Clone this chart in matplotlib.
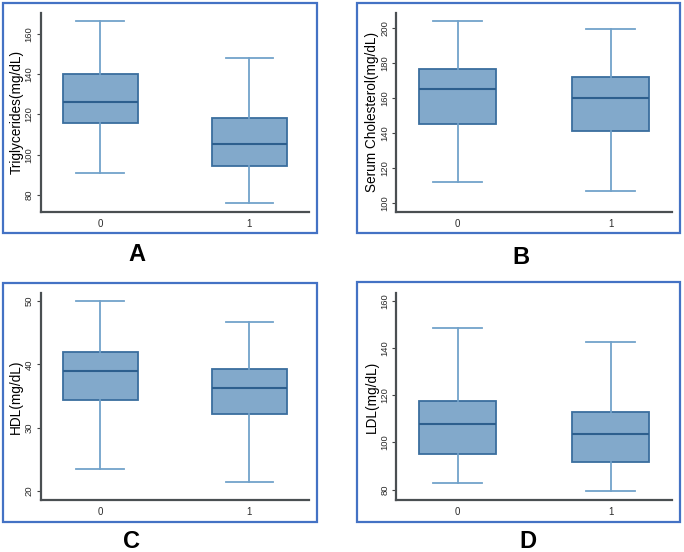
import matplotlib
matplotlib.use("Agg")
import matplotlib.pyplot as plt
from matplotlib.patches import Rectangle

plt.rcParams['font.family'] = ['Liberation Sans', 'DejaVu Sans']

groups = ['0', '1']

# five-number summaries: lower whisker, q1, median, q3, upper whisker
trig_0 = [91, 116, 126.3, 140, 166.5]
trig_1 = [76, 94.5, 105.5, 118, 148]
chol_0 = [112, 145, 165, 176.5, 204]
chol_1 = [107, 141, 160, 171.7, 199]
hdl_0 = [23.5, 34.3, 38.9, 42.0, 50]
hdl_1 = [21.5, 32.1, 36.3, 39.2, 46.6]
ldl_0 = [83, 95.2, 108, 117.6, 148.7]
ldl_1 = [79.3, 91.7, 103.6, 112.8, 142.5]

panels = [
    ('A', 'Triglycerides(mg/dL)', [trig_0, trig_1], [80, 100, 120, 140, 160], (71.7, 170.4)),
    ('B', 'Serum Cholesterol(mg/dL)', [chol_0, chol_1], [100, 120, 140, 160, 180, 200], (95.2, 208.4)),
    ('C', 'HDL(mg/dL)', [hdl_0, hdl_1], [20, 30, 40, 50], (18.6, 51.2)),
    ('D', 'LDL(mg/dL)', [ldl_0, ldl_1], [80, 100, 120, 140, 160], (75.6, 163.3)),
]

W, H = 684, 552
# axes boxes in pixels: left, top, right, bottom
ax_px = [(40.7, 13, 309, 211.7), (396.3, 13, 672, 211.7),
         (40.7, 293.3, 309, 500), (396.3, 293.3, 672, 500)]
frame_px = [(3, 3, 317, 233), (357, 3, 680, 233),
            (3, 283, 317, 522), (357, 282, 680, 522)]
letter_px = [(137, 255), (521, 257), (132, 541), (528, 541)]

fill_c = '#82a9cb'
edge_c = '#3a6e9e'
whisk_c = '#72a2ca'
med_c = '#2d5f8e'

fig = plt.figure(figsize=(W / 100, H / 100), dpi=100, facecolor='white')

for (letter, ylabel, summaries, yticks, ylim), (l, t, r, b), (fl, ft, fr, fb), (lx, ly) in zip(
        panels, ax_px, frame_px, letter_px):
    fig.patches.append(Rectangle((fl / W, 1 - fb / H), (fr - fl) / W, (fb - ft) / H,
                                 transform=fig.transFigure, fill=False,
                                 edgecolor='#4472c4', linewidth=1.6, zorder=0))
    ax = fig.add_axes([l / W, 1 - b / H, (r - l) / W, (b - t) / H])
    stats = []
    for name, s in zip(groups, summaries):
        stats.append(dict(label=name, whislo=s[0], q1=s[1], med=s[2], q3=s[3], whishi=s[4], fliers=[]))
    ax.bxp(stats, positions=[0, 1], widths=0.5, capwidths=0.32, patch_artist=True,
           showfliers=False,
           boxprops=dict(facecolor=fill_c, edgecolor=edge_c, linewidth=1.3),
           medianprops=dict(color=med_c, linewidth=1.5),
           whiskerprops=dict(color=whisk_c, linewidth=1.3),
           capprops=dict(color=whisk_c, linewidth=1.3))
    ax.set_xlim(-0.4, 1.4)
    ax.set_ylim(*ylim)
    ax.set_yticks(yticks)
    ax.set_yticklabels([str(v) for v in yticks], rotation=90, va='center', fontsize=6.8, color='#2a2a2a')
    ax.set_xticks([0, 1])
    ax.set_xticklabels(groups, fontsize=7, color='#2a2a2a')
    ax.tick_params(axis='x', length=0, pad=5)
    ax.tick_params(axis='y', length=3, width=0.8, color='#444444', pad=2)
    ax.set_ylabel(ylabel, fontsize=9.8, labelpad=1)
    for side in ['top', 'right']:
        ax.spines[side].set_visible(False)
    for side in ['left', 'bottom']:
        ax.spines[side].set_color('#4a4f52')
        ax.spines[side].set_linewidth(1.6)
    fig.text(lx / W, 1 - ly / H, letter, fontsize=17, fontweight='bold',
             ha='center', va='center')

plt.savefig('out.png', dpi=100)
